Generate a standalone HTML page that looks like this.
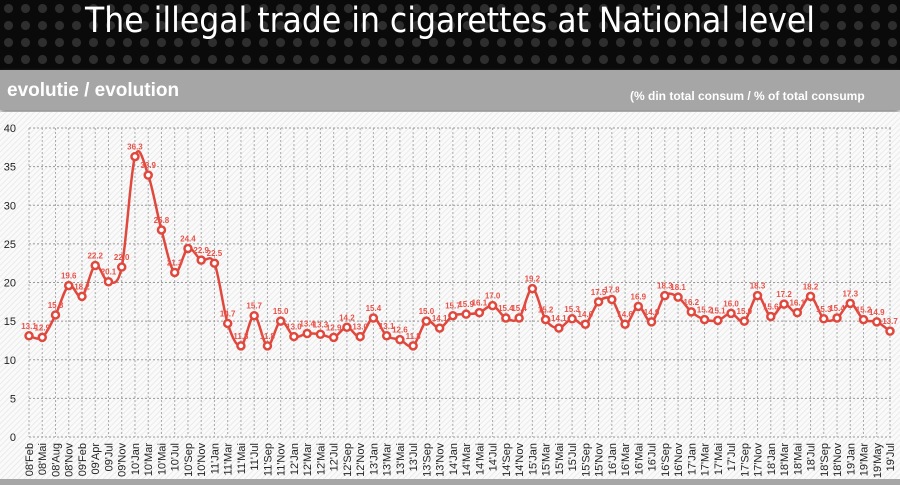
<!DOCTYPE html>
<html><head><meta charset="utf-8"><style>
body{margin:0;width:900px;height:485px;overflow:hidden;font-family:"Liberation Sans",sans-serif;background:#fff}
#hdr{position:absolute;left:0;top:0;width:900px;height:70px;background:#0a0a0a;
background-image:radial-gradient(circle,#2e2e2e 35%,transparent 40%);background-size:17px 17px}
#title{position:absolute;left:0;top:1px;width:900px;text-align:center;color:#fff;font-size:35px;font-family:"Liberation Sans Narrow","DejaVu Sans Condensed","Liberation Sans",sans-serif;letter-spacing:0px}
#bar{position:absolute;left:0;top:70px;width:900px;height:40px;background:#a6a6a6;box-shadow:0 3px 5px #888}
#bar .l{position:absolute;left:7px;top:10px;color:#fff;font-weight:bold;font-size:19px}
#bar .r{position:absolute;left:630px;top:19px;color:#fff;font-weight:bold;font-size:12px;white-space:nowrap}
#chart{position:absolute;left:0;top:112px}
#foot{position:absolute;left:0;top:479px;width:900px;height:6px;background:#a6a6a6}
</style></head><body>
<div id="hdr"><div id="title">The illegal trade in cigarettes at National level</div></div>
<div id="bar"><span class="l">evolutie / evolution</span><span class="r">(% din total consum / % of total consump</span></div>
<svg id="chart" width="900" height="368">
<defs><pattern id="hatch" width="4" height="4" patternUnits="userSpaceOnUse" patternTransform="rotate(45)"><rect width="4" height="4" fill="#fafafa"/><line x1="0" y1="0" x2="0" y2="4" stroke="#e6e6e6" stroke-width="1.5"/></pattern></defs>
<rect width="900" height="368" fill="url(#hatch)"/>
<g id="g"></g>
</svg>
<div id="foot"></div>
<script>
const categories=["08'Feb","08'Mai","08'Aug","08'Nov","09'Feb","09'Apr","09'Jul","09'Nov","10'Jan","10'Mar","10'Mai","10'Jul","10'Sep","10'Nov","11'Jan","11'Mar","11'Mai","11'Jul","11'Sep","11'Nov","12'Jan","12'Mar","12'Mai","12'Jul","12'Sep","12'Nov","13'Jan","13'Mar","13'Mai","13'Jul","13'Sep","13'Nov","14'Jan","14'Mar","14'Mai","14'Jul","14'Sep","14'Nov","15'Jan","15'Mar","15'Mai","15'Jul","15'Sep","15'Nov","16'Jan","16'Mar","16'Mai","16'Jul","16'Sep","16'Nov","17'Jan","17'Mar","17'Mai","17'Jul","17'Sep","17'Nov","18'Jan","18'Mar","18'Mai","18'Jul","18'Sep","18'Nov","19'Jan","19'Mar","19'May","19'Jul"];
const values=[13.1,12.9,15.8,19.6,18.2,22.2,20.1,22.0,36.3,33.9,26.8,21.3,24.4,22.9,22.5,14.7,11.8,15.7,11.8,15.0,13.0,13.4,13.3,12.9,14.2,13.0,15.4,13.1,12.6,11.8,15.0,14.1,15.7,15.9,16.1,17.0,15.4,15.4,19.2,15.2,14.1,15.3,14.6,17.5,17.8,14.6,16.9,14.9,18.3,18.1,16.2,15.2,15.1,16.0,15.0,18.3,15.6,17.2,16.1,18.2,15.3,15.4,17.3,15.2,14.9,13.7];
const yTicks=[0,5,10,15,20,25,30,35,40];
const NS="http://www.w3.org/2000/svg",g=document.getElementById('g');
const x0=29,x1=890,yb=325,yt=16;
const X=i=>x0+i*(x1-x0)/(categories.length-1);
const Y=v=>yb-(v/40)*(yb-yt);
function mk(t,a,p){const e=document.createElementNS(NS,t);for(const k in a)e.setAttribute(k,a[k]);(p||g).appendChild(e);return e;}
yTicks.forEach(t=>{
 const l=mk('line',{x1:x0,x2:893,y1:Y(t),y2:Y(t),stroke:'#999','stroke-dasharray':'2,2','stroke-width':1});
 
 
 const tx=mk('text',{x:16,y:Y(t)+4,'text-anchor':'end','font-size':11,fill:'#222'});tx.textContent=t;
 
 
});
categories.forEach((c,i)=>{
 const l=mk('line',{x1:X(i),x2:X(i),y1:yt,y2:yb,stroke:'#aaa','stroke-dasharray':'2,2','stroke-width':1});
 
 
 const tx=mk('text',{transform:`translate(${X(i)+4},${yb+6}) rotate(-90)`,'text-anchor':'end','font-size':11,fill:'#222'});tx.textContent=c;
 
 
});
let pts=values.map((v,i)=>[X(i),Y(v)]);
let d=`M${pts[0][0]},${pts[0][1]}`;
for(let i=0;i<pts.length-1;i++){const p0=pts[i-1]||pts[i],p1=pts[i],p2=pts[i+1],p3=pts[i+2]||p2;
 d+=`C${p1[0]+(p2[0]-p0[0])/6},${p1[1]+(p2[1]-p0[1])/6} ${p2[0]-(p3[0]-p1[0])/6},${p2[1]-(p3[1]-p1[1])/6} ${p2[0]},${p2[1]}`;}
const line=mk('path',{d:d,fill:'none',stroke:'#e0483e','stroke-width':2.5});


values.forEach((v,i)=>{
 const c=mk('circle',{cx:X(i),cy:Y(v),r:3.5,fill:'#fff',stroke:'#e0483e','stroke-width':2.5});
 
 
 const t=mk('text',{x:X(i),y:Y(v)-7,'text-anchor':'middle','font-size':8,'font-weight':'bold',fill:'#e8534a'});t.textContent=v.toFixed(1);
 
 
});
</script>
</body></html>
